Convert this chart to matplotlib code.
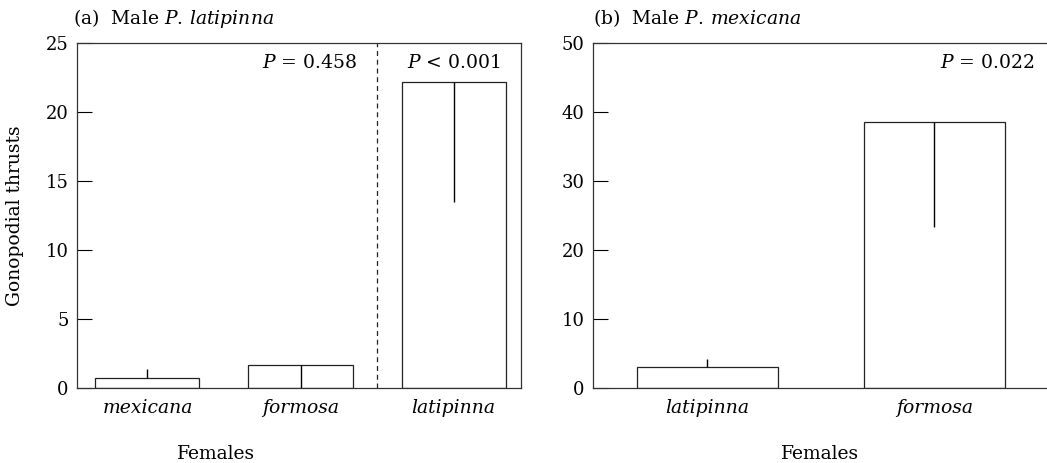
import matplotlib
matplotlib.use("Agg")
import matplotlib.pyplot as plt

# Panel (a): Male P. latipinna
a_cats = ["mexicana", "formosa", "latipinna"]
a_means = [0.75, 1.7, 22.2]
a_err_lo = [0.0, 1.7, 8.7]
a_err_hi = [0.6, 0.0, 0.0]
a_yticks = [0, 5, 10, 15, 20, 25]

# Panel (b): Male P. mexicana
b_cats = ["latipinna", "formosa"]
b_means = [3.1, 38.6]
b_err_lo = [0.0, 15.3]
b_err_hi = [1.1, 0.0]
b_yticks = [0, 10, 20, 30, 40, 50]

plt.rcParams["font.family"] = "DejaVu Serif"
plt.rcParams["mathtext.fontset"] = "dejavuserif"
FS = 13.5
TFS = 13

fig = plt.figure(figsize=(10.47, 4.63), dpi=100)
axa = fig.add_axes([0.0735, 0.162, 0.4241, 0.745])
axb = fig.add_axes([0.5664, 0.162, 0.4346, 0.745])


def style(ax, yticks):
    ax.set_yticks(yticks)
    ax.set_yticklabels([str(t) for t in yticks], fontsize=TFS)
    ax.tick_params(axis="y", direction="in", length=10.5, width=0.8, pad=6)
    ax.tick_params(axis="x", length=0, pad=8)
    for s in ax.spines.values():
        s.set_linewidth(0.9)
        s.set_color("#333333")


xa = list(range(len(a_cats)))
axa.bar(xa, a_means, width=0.68, color="white", edgecolor="#222222", linewidth=0.9)
axa.errorbar(xa, a_means, yerr=[a_err_lo, a_err_hi], fmt="none", ecolor="black",
             elinewidth=1.0, capsize=0)
axa.set_xlim(-0.46, 2.44)
axa.set_ylim(0, 25)
style(axa, a_yticks)
axa.set_xticks(xa)
axa.set_xticklabels(a_cats, fontsize=FS, style="italic")
axa.axvline(1.5, color="#222222", linestyle=(0, (4, 3)), linewidth=0.9)
axa.text(1.37, 24.2, r"$\mathit{P}$ = 0.458", ha="right", va="top", fontsize=FS)
axa.text(2.0, 24.2, r"$\mathit{P}$ < 0.001", ha="center", va="top", fontsize=FS)
axa.set_ylabel("Gonopodial thrusts", fontsize=FS)
axa.yaxis.set_label_coords(-0.12, 0.5)
axa.set_xlabel("Females", fontsize=FS)
axa.xaxis.set_label_coords(0.313, -0.165)
axa.set_title(r"(a)  Male $\mathit{P.\,latipinna}$", fontsize=FS, loc="left",
              x=-0.01, pad=14)

xb = list(range(len(b_cats)))
axb.bar(xb, b_means, width=0.62, color="white", edgecolor="#222222", linewidth=0.9)
axb.errorbar(xb, b_means, yerr=[b_err_lo, b_err_hi], fmt="none", ecolor="black",
             elinewidth=1.0, capsize=0)
axb.set_xlim(-0.503, 1.5)
axb.set_ylim(0, 50)
style(axb, b_yticks)
axb.spines["right"].set_visible(False)
axb.set_xticks(xb)
axb.set_xticklabels(b_cats, fontsize=FS, style="italic")
axb.text(1.44, 48.4, r"$\mathit{P}$ = 0.022", ha="right", va="top", fontsize=FS)
axb.set_xlabel("Females", fontsize=FS)
axb.xaxis.set_label_coords(0.5, -0.165)
axb.set_title(r"(b)  Male $\mathit{P.\,mexicana}$", fontsize=FS, loc="left",
              x=0.0, pad=14)

fig.savefig("out.png", dpi=100)
